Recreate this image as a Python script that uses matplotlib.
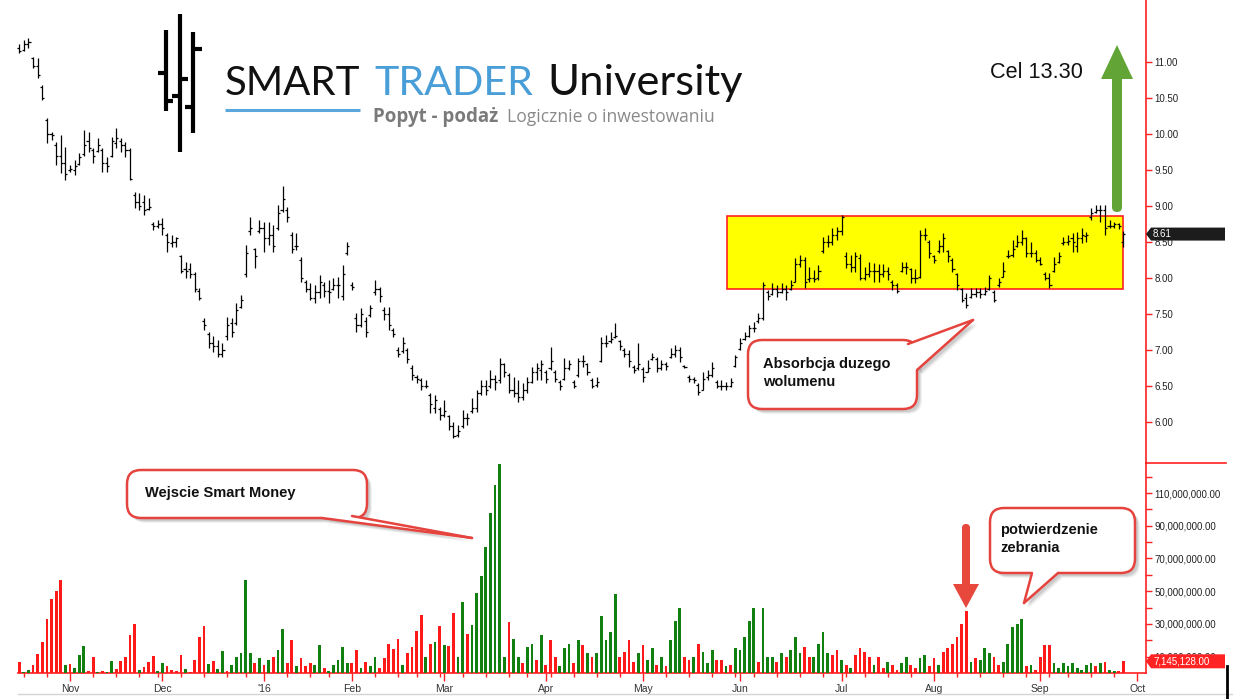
import matplotlib
matplotlib.use('Agg')
import matplotlib.pyplot as plt
import numpy as np
import pandas as pd
from matplotlib.patches import Rectangle, FancyBboxPatch, Polygon

plt.rcParams['font.family'] = ['Liberation Sans', 'DejaVu Sans']

# ---------------- data ----------------
start_date = '2015-10-16'
holidays = ['2015-11-26', '2015-12-25', '2016-01-01', '2016-01-18', '2016-02-15',
            '2016-03-25', '2016-05-30', '2016-07-04', '2016-09-05']

high = [11.25, 11.30, 11.33, 11.07, 11.05, 10.68, 10.22, 10.03, 9.89, 9.99,
        9.82, 9.57, 9.64, 9.74, 10.05, 10.03, 9.80, 9.94, 9.80, 9.68,
        9.96, 10.08, 9.94, 9.89, 9.80, 9.20, 9.18, 9.15, 9.11, 8.78,
        8.80, 8.83, 8.63, 8.60, 8.57, 8.32, 8.22, 8.21, 8.08, 7.86,
        7.44, 7.25, 7.20, 7.14, 7.10, 7.46, 7.44, 7.65, 7.76, 8.46,
        8.85, 8.42, 8.80, 8.78, 8.78, 8.74, 9.01, 9.28, 8.99, 8.64,
        8.63, 8.29, 7.97, 7.93, 7.90, 8.04, 7.94, 7.97, 8.00, 8.01,
        8.18, 8.50, 7.94, 7.51, 7.58, 7.46, 7.62, 7.97, 7.88, 7.60,
        7.60, 7.30, 7.04, 7.18, 7.03, 6.79, 6.65, 6.61, 6.58, 6.40,
        6.38, 6.21, 6.31, 6.10, 6.00, 5.96, 6.17, 6.12, 6.33, 6.44,
        6.58, 6.58, 6.72, 6.65, 6.89, 6.82, 6.68, 6.62, 6.58, 6.54,
        6.62, 6.76, 6.82, 6.86, 6.72, 7.04, 6.72, 6.58, 6.89, 6.86,
        6.58, 6.89, 6.93, 6.82, 6.61, 6.62, 7.18, 7.21, 7.25, 7.38,
        7.14, 7.03, 7.00, 6.79, 7.10, 6.76, 6.86, 6.96, 6.90, 6.86,
        6.83, 7.03, 7.07, 7.04, 6.79, 6.65, 6.62, 6.54, 6.69, 6.72,
        6.83, 6.58, 6.58, 6.56, 6.61, 6.93, 7.17, 7.25, 7.35, 7.39,
        7.51, 7.94, 7.83, 7.93, 7.90, 7.93, 7.90, 7.97, 8.28, 8.32,
        8.29, 8.15, 8.11, 8.18, 8.57, 8.60, 8.69, 8.71, 8.87, 8.36,
        8.32, 8.36, 8.33, 8.15, 8.22, 8.21, 8.19, 8.19, 8.15, 7.97,
        7.93, 8.22, 8.22, 8.14, 8.12, 8.67, 8.69, 8.53, 8.32, 8.53,
        8.63, 8.39, 8.28, 8.07, 7.86, 7.79, 7.86, 7.86, 7.86, 7.88,
        8.04, 7.83, 8.00, 8.22, 8.39, 8.53, 8.60, 8.67, 8.57, 8.50,
        8.39, 8.29, 8.08, 8.07, 8.29, 8.36, 8.57, 8.60, 8.63, 8.64,
        8.69, 8.64, 8.97, 9.01, 9.01, 9.01, 8.80, 8.78, 8.77, 8.65]

low = [11.12, 11.15, 11.20, 10.92, 10.78, 10.47, 9.88, 9.92, 9.57, 9.46,
       9.36, 9.47, 9.43, 9.57, 9.70, 9.75, 9.60, 9.75, 9.47, 9.47,
       9.68, 9.80, 9.75, 9.68, 9.36, 8.97, 8.94, 8.87, 8.94, 8.67,
       8.69, 8.60, 8.36, 8.43, 8.43, 8.07, 8.00, 8.00, 7.80, 7.69,
       7.28, 7.03, 6.97, 6.90, 6.90, 7.14, 7.18, 7.35, 7.58, 8.01,
       8.60, 8.14, 8.62, 8.36, 8.46, 8.36, 8.67, 8.92, 8.78, 8.35,
       8.39, 7.94, 7.80, 7.69, 7.65, 7.72, 7.74, 7.65, 7.83, 7.72,
       7.69, 8.32, 7.83, 7.25, 7.32, 7.18, 7.46, 7.76, 7.67, 7.42,
       7.28, 7.18, 6.90, 6.96, 6.82, 6.58, 6.54, 6.44, 6.47, 6.12,
       6.12, 6.03, 6.07, 5.89, 5.78, 5.79, 5.92, 5.96, 6.12, 6.14,
       6.38, 6.38, 6.47, 6.44, 6.54, 6.62, 6.40, 6.35, 6.28, 6.30,
       6.40, 6.54, 6.58, 6.58, 6.54, 6.72, 6.56, 6.44, 6.58, 6.72,
       6.47, 6.62, 6.76, 6.65, 6.47, 6.49, 6.83, 7.04, 7.10, 7.17,
       7.00, 6.90, 6.76, 6.68, 6.72, 6.56, 6.69, 6.86, 6.69, 6.72,
       6.72, 6.89, 6.90, 6.83, 6.75, 6.56, 6.54, 6.38, 6.44, 6.58,
       6.62, 6.47, 6.44, 6.44, 6.49, 6.76, 7.00, 7.14, 7.18, 7.25,
       7.38, 7.42, 7.69, 7.76, 7.74, 7.79, 7.69, 7.83, 7.94, 8.15,
       7.86, 7.94, 7.94, 7.97, 8.35, 8.43, 8.46, 8.53, 8.60, 8.14,
       8.08, 8.08, 7.97, 7.97, 8.01, 7.94, 7.94, 8.01, 7.97, 7.83,
       7.79, 8.08, 8.06, 7.93, 7.93, 8.00, 8.53, 8.28, 8.21, 8.35,
       8.36, 8.22, 8.08, 7.83, 7.67, 7.58, 7.72, 7.74, 7.72, 7.76,
       7.83, 7.67, 7.88, 8.01, 8.28, 8.29, 8.43, 8.46, 8.29, 8.29,
       8.22, 8.18, 7.97, 7.86, 8.08, 8.21, 8.46, 8.46, 8.36, 8.36,
       8.49, 8.50, 8.81, 8.90, 8.78, 8.60, 8.69, 8.70, 8.68, 8.43]

open_ = [11.20, 11.17, 11.25, 11.05, 10.95, 10.65, 10.20, 10.00, 9.85, 9.70,
         9.60, 9.50, 9.50, 9.58, 9.72, 9.90, 9.78, 9.76, 9.78, 9.60,
         9.70, 9.88, 9.90, 9.85, 9.78, 9.15, 9.05, 9.05, 8.96, 8.75,
         8.72, 8.75, 8.60, 8.48, 8.50, 8.30, 8.12, 8.12, 8.05, 7.82,
         7.40, 7.22, 7.10, 7.05, 6.95, 7.20, 7.38, 7.38, 7.60, 8.05,
         8.65, 8.40, 8.65, 8.70, 8.55, 8.60, 8.70, 8.95, 8.95, 8.60,
         8.45, 8.25, 7.95, 7.85, 7.72, 7.80, 7.90, 7.82, 7.85, 7.90,
         7.75, 8.35, 7.90, 7.45, 7.35, 7.40, 7.48, 7.80, 7.85, 7.55,
         7.50, 7.28, 7.00, 6.98, 7.00, 6.75, 6.62, 6.58, 6.50, 6.38,
         6.20, 6.18, 6.10, 6.08, 5.95, 5.82, 5.95, 6.05, 6.15, 6.20,
         6.40, 6.50, 6.50, 6.60, 6.58, 6.80, 6.65, 6.45, 6.40, 6.35,
         6.45, 6.55, 6.70, 6.72, 6.70, 6.75, 6.70, 6.56, 6.60, 6.75,
         6.55, 6.65, 6.85, 6.80, 6.58, 6.52, 6.85, 7.10, 7.12, 7.18,
         7.12, 7.00, 6.95, 6.76, 6.75, 6.74, 6.70, 6.88, 6.88, 6.75,
         6.80, 6.90, 6.95, 7.00, 6.78, 6.62, 6.60, 6.52, 6.45, 6.62,
         6.65, 6.55, 6.50, 6.50, 6.50, 6.78, 7.02, 7.15, 7.20, 7.30,
         7.40, 7.45, 7.80, 7.78, 7.85, 7.80, 7.85, 7.85, 7.95, 8.20,
         8.25, 7.98, 8.00, 8.00, 8.38, 8.50, 8.50, 8.60, 8.65, 8.30,
         8.20, 8.15, 8.28, 8.00, 8.05, 8.10, 8.10, 8.05, 8.10, 7.95,
         7.90, 8.10, 8.15, 8.12, 8.00, 8.02, 8.60, 8.50, 8.30, 8.38,
         8.45, 8.38, 8.25, 8.05, 7.85, 7.72, 7.74, 7.78, 7.80, 7.78,
         7.85, 7.80, 7.90, 8.02, 8.30, 8.32, 8.45, 8.50, 8.55, 8.35,
         8.35, 8.25, 8.05, 8.00, 8.10, 8.22, 8.48, 8.50, 8.55, 8.45,
         8.55, 8.58, 8.85, 8.92, 8.95, 8.95, 8.72, 8.72, 8.75, 8.50]

close = [11.15, 11.25, 11.28, 10.95, 10.82, 10.50, 10.00, 9.98, 9.70, 9.60,
         9.45, 9.52, 9.55, 9.68, 9.85, 9.80, 9.70, 9.85, 9.60, 9.55,
         9.90, 9.95, 9.85, 9.78, 9.38, 9.05, 9.00, 8.95, 8.98, 8.72,
         8.75, 8.70, 8.50, 8.50, 8.55, 8.10, 8.10, 8.05, 7.85, 7.72,
         7.35, 7.10, 7.05, 6.95, 7.00, 7.35, 7.25, 7.55, 7.70, 8.35,
         8.70, 8.30, 8.70, 8.55, 8.60, 8.45, 8.90, 9.10, 8.85, 8.40,
         8.45, 8.00, 7.85, 7.72, 7.80, 7.95, 7.82, 7.80, 7.90, 7.90,
         8.05, 8.45, 7.88, 7.35, 7.50, 7.25, 7.58, 7.85, 7.75, 7.50,
         7.35, 7.22, 6.95, 7.10, 6.88, 6.65, 6.60, 6.50, 6.50, 6.25,
         6.30, 6.10, 6.15, 5.95, 5.80, 5.88, 6.05, 6.05, 6.20, 6.40,
         6.50, 6.45, 6.60, 6.55, 6.80, 6.70, 6.45, 6.40, 6.35, 6.45,
         6.55, 6.70, 6.75, 6.80, 6.60, 6.85, 6.60, 6.50, 6.75, 6.80,
         6.50, 6.85, 6.85, 6.70, 6.50, 6.55, 7.10, 7.10, 7.15, 7.20,
         7.05, 6.95, 6.85, 6.72, 6.80, 6.62, 6.75, 6.90, 6.75, 6.80,
         6.78, 6.95, 7.00, 6.90, 6.77, 6.60, 6.58, 6.42, 6.60, 6.65,
         6.75, 6.50, 6.50, 6.50, 6.55, 6.90, 7.10, 7.20, 7.30, 7.30,
         7.45, 7.90, 7.75, 7.85, 7.80, 7.85, 7.80, 7.90, 8.20, 8.25,
         7.95, 8.00, 7.98, 8.10, 8.50, 8.50, 8.60, 8.65, 8.85, 8.20,
         8.15, 8.30, 8.00, 8.05, 8.10, 8.10, 8.05, 8.10, 8.05, 7.90,
         7.82, 8.15, 8.15, 8.00, 8.00, 8.60, 8.60, 8.35, 8.25, 8.45,
         8.55, 8.30, 8.12, 7.90, 7.70, 7.62, 7.78, 7.80, 7.78, 7.82,
         8.00, 7.70, 7.95, 8.10, 8.30, 8.40, 8.50, 8.55, 8.35, 8.35,
         8.25, 8.20, 8.00, 7.90, 8.20, 8.30, 8.50, 8.52, 8.50, 8.55,
         8.60, 8.60, 8.90, 8.95, 8.95, 8.70, 8.72, 8.75, 8.72, 8.61]

# volume in millions of shares
volume_m = [6.5, 0.5, 2, 5, 11.6, 18.7, 33, 45, 50, 57,
            5, 5.5, 3, 11, 16.7, 1.4, 10, 0.8, 1.4, 0.8,
            7.5, 2.4, 7.5, 10, 23, 30, 2, 3.5, 6.5, 10.6,
            1, 6, 4.5, 1.8, 1, 11, 2.4, 0.8, 8, 22,
            29, 5.5, 7.5, 2.4, 13.6, 1.4, 4.9, 10, 12, 57,
            12, 6, 9, 5, 8, 10, 14, 27, 6, 20,
            4, 9, 4, 6, 5, 17, 3, 1, 5, 8,
            16, 6, 6, 14, 3, 7, 4, 10, 3, 9,
            18, 14.7, 20.8, 5, 12, 15.9, 25.7, 35.5, 10, 17.7,
            18.9, 28.7, 17, 16.5, 36.7, 10, 43.4, 23.8, 29.3, 49,
            59, 77, 98, 115, 128, 10, 31, 21, 10, 6,
            16, 18, 8, 23, 5, 20, 10, 4, 15, 18,
            6, 20, 17, 12, 10, 12, 35, 20, 25, 48,
            10, 13, 20, 7, 12, 17, 8, 15, 5, 10,
            4, 20, 32, 40, 10, 8, 10, 18, 13, 6,
            14, 8, 8, 4, 5, 15, 14, 22, 32, 40,
            7, 40, 10, 10, 7, 12, 10, 14, 22, 12,
            16, 10, 10, 18, 25, 12, 11, 14, 8, 5,
            3, 11, 15, 13, 10, 5, 10, 3, 7, 5,
            2, 6, 10, 5, 3, 9, 11, 4, 9, 5,
            13, 15, 18, 22, 30, 38, 7, 9, 8, 15,
            12, 10, 5, 7, 18, 28, 30, 33, 4, 5,
            2, 10, 17, 17, 6, 3, 6, 4, 6, 3,
            2, 5, 6, 4, 6, 7, 2, 1, 1, 7.145128]

vol_dir_rows = ["rggrrrrrrr", "grgggrrgrg", "grrrrrgrrr", "ggrrrrgrrr", "rgrggrgggg",
                "grgrgrggrr", "grrrggrggg", "ggrrgrggrr", "rrrgrrrrgr", "grgrrggrgg",
                "ggggggrggr", "ggrgrrrggg", "rgrgrggggg", "rrrrgrggrg", "rgggrrgrgg",
                "grrgrggggg", "rgggrgrggg", "rrggggrrgr", "grrrrgrrgr", "rggrrggrrg",
                "rrrrrrgrgg", "grrgggggrg", "rrrrgggggg", "gggrgrggrr"]
vol_dir = ''.join(vol_dir_rows)

zone_low, zone_high = 7.85, 8.86
zone_start, zone_end = 153.2, 238.9
last_price_label = '8.61'
last_volume_label = '7,145,128.00'

month_names = {1: "'16", 2: 'Feb', 3: 'Mar', 4: 'Apr', 5: 'May', 6: 'Jun', 7: 'Jul',
               8: 'Aug', 9: 'Sep', 10: 'Oct', 11: 'Nov', 12: 'Dec'}

# ---------------- layout (pixels) ----------------
W, H = 1233, 699
AX_RIGHT = 1146
PRICE_BOTTOM = 463
VOL_BOTTOM = 673
BAR_PX = 4.62
X0_PX = 19.2
PX_PER_PRICE = 72.0
PRICE_REF, PRICE_REF_PX = 11.0, 62.0
PX_PER_MVOL = 1.636

RED = '#ff2020'
GREEN_BAR = '#118011'
RED_BAR = '#ff1a1a'

fig = plt.figure(figsize=(W / 100, H / 100), dpi=100)
fig.patch.set_facecolor('white')

def fy(py):
    return 1 - py / H

ax_p = fig.add_axes([0, fy(PRICE_BOTTOM), AX_RIGHT / W, PRICE_BOTTOM / H])
ax_v = fig.add_axes([0, fy(VOL_BOTTOM), AX_RIGHT / W, (VOL_BOTTOM - PRICE_BOTTOM) / H])

n = len(close)
idx = np.arange(n)
xlim = (-X0_PX / BAR_PX, (AX_RIGHT - X0_PX) / BAR_PX)

# ---------------- price panel ----------------
ax_p.set_xlim(*xlim)
ax_p.set_ylim(PRICE_REF - (PRICE_BOTTOM - PRICE_REF_PX) / PX_PER_PRICE,
              PRICE_REF + PRICE_REF_PX / PX_PER_PRICE)
ax_p.add_patch(Rectangle((zone_start, zone_low), zone_end - zone_start, zone_high - zone_low,
                         facecolor='#ffff00', edgecolor=RED, lw=1.2, zorder=1))
ax_p.vlines(idx, low, high, color='black', lw=0.9, zorder=3)
ax_p.hlines(open_, idx - 0.45, idx, color='black', lw=0.9, zorder=3)
ax_p.hlines(close, idx, idx + 0.45, color='black', lw=0.9, zorder=3)
for s in ['top', 'left', 'bottom']:
    ax_p.spines[s].set_visible(False)
ax_p.spines['right'].set_color(RED)
ax_p.spines['right'].set_linewidth(1.2)
ax_p.xaxis.set_visible(False)
ax_p.yaxis.tick_right()
pticks = np.arange(6.0, 11.01, 0.5)
ax_p.set_yticks(pticks)
ax_p.set_yticklabels([f'{t:.2f}' for t in pticks])
ax_p.tick_params(axis='y', length=4, width=1, color=RED, labelsize=7, labelcolor='#222222', pad=2)

# price tag
tr = ax_p.get_yaxis_transform()
ppx = 1.0 / AX_RIGHT
hh = 6.5 / PX_PER_PRICE
yv = close[-1]
ax_p.add_patch(Polygon([(1.0, yv), (1.0 + 5 * ppx, yv + hh), ((W - 8) * ppx, yv + hh),
                        ((W - 8) * ppx, yv - hh), (1.0 + 5 * ppx, yv - hh)],
                       closed=True, transform=tr, facecolor='#1c1c1c', edgecolor='none',
                       clip_on=False, zorder=10))
ax_p.text(1.0 + 7 * ppx, yv, last_price_label, transform=tr, color='white', fontsize=7,
          va='center', ha='left', clip_on=False, zorder=11)

# ---------------- volume panel ----------------
ax_v.set_xlim(*xlim)
ax_v.set_ylim(0, (VOL_BOTTOM - PRICE_BOTTOM) / PX_PER_MVOL * 1e6)
vols = np.array(volume_m) * 1e6
cols = [GREEN_BAR if d == 'g' else RED_BAR for d in vol_dir[:n]]
ax_v.bar(idx, vols, width=0.6, color=cols, zorder=3)
for s in ['top', 'left']:
    ax_v.spines[s].set_visible(False)
for s in ['right', 'bottom']:
    ax_v.spines[s].set_color(RED)
    ax_v.spines[s].set_linewidth(1.2)
ax_v.spines['bottom'].set_bounds((18 - X0_PX) / BAR_PX, xlim[1])
ax_v.yaxis.tick_right()
vmaj = np.arange(10e6, 111e6, 20e6)
vmin = np.arange(20e6, 121e6, 20e6)
ax_v.set_yticks(vmaj)
ax_v.set_yticks(vmin, minor=True)
ax_v.set_yticklabels([f'{v:,.2f}' for v in vmaj])
ax_v.tick_params(axis='y', which='both', length=4, width=1, color=RED, labelsize=7,
                 labelcolor='#222222', pad=2)

# date axis
hol = pd.to_datetime(holidays)
dates = pd.bdate_range(start_date, '2016-10-07', freq='C', holidays=hol)
months = dates.month.values
mpos, mlab = [], []
for i in range(1, len(dates)):
    if months[i] != months[i - 1] and i <= xlim[1]:
        mpos.append(i)
        mlab.append(month_names[months[i]])
wpos = []
wd = dates.weekday.values
for i in range(1, len(dates)):
    if wd[i] < wd[i - 1] and i not in mpos and i <= xlim[1]:
        wpos.append(i)
ax_v.set_xticks(mpos)
ax_v.set_xticklabels(mlab)
ax_v.set_xticks(wpos, minor=True)
ax_v.tick_params(axis='x', which='major', length=6, width=1, color=RED, labelsize=7.5,
                 labelcolor='#333333', pad=2)
ax_v.tick_params(axis='x', which='minor', length=3, width=1, color=RED)

# volume tag
trv = ax_v.get_yaxis_transform()
hv = 7 / PX_PER_MVOL * 1e6
vv = vols[-1]
ax_v.add_patch(Polygon([(1.0, vv), (1.0 + 5 * ppx, vv + hv), ((W - 8) * ppx, vv + hv),
                        ((W - 8) * ppx, vv - hv), (1.0 + 5 * ppx, vv - hv)],
                       closed=True, transform=trv, facecolor='#ff2222', edgecolor='none',
                       clip_on=False, zorder=10))
ax_v.text(1.0 + 7 * ppx, vv, last_volume_label, transform=trv, color='white', fontsize=7,
          va='center', ha='left', clip_on=False, zorder=11)

# ---------------- overlay (pixel coordinates) ----------------
ov = fig.add_axes([0, 0, 1, 1], zorder=20)
ov.set_xlim(0, W)
ov.set_ylim(H, 0)
ov.axis('off')
ov.patch.set_alpha(0)

# separators
ov.plot([AX_RIGHT, W - 7], [PRICE_BOTTOM, PRICE_BOTTOM], color=RED, lw=1.2)
ov.plot([18, W], [694, 694], color='#d4d4d4', lw=1)
ov.plot([W - 6, W - 6], [666, H], color='black', lw=2)

renderer = fig.canvas.get_renderer()

def fit_text(x, y, s, width, va='baseline', **kw):
    t = ov.text(x, y, s, ha='left', va=va, **kw)
    fs = t.get_fontsize()
    w = t.get_window_extent(renderer).width
    t.set_fontsize(fs * width / w)
    return t

# logo glyph
LOGO = 'black'
for (x, y0, y1) in [(166, 30, 111), (180, 14, 152), (193, 32, 133)]:
    ov.plot([x, x], [y0, y1], color=LOGO, lw=3, solid_capstyle='butt')
for (xa, xb, y) in [(158, 166, 73), (166, 173, 101), (172, 180, 96), (180, 188, 79),
                    (193, 202, 49), (185, 193, 107)]:
    ov.plot([xa, xb], [y, y], color=LOGO, lw=3, solid_capstyle='butt')

LOGO_FONT = ['Lato', 'DejaVu Sans']
fit_text(225, 95, 'SMART', 135, fontsize=30, color='#111111', family=LOGO_FONT)
fit_text(374, 95, 'TRADER', 159, fontsize=30, color='#4a9ed8', family=LOGO_FONT)
fit_text(547, 95, 'University', 195, fontsize=30, color='#111111', family=LOGO_FONT)
ov.plot([225, 360], [110, 110], color='#5aa7dd', lw=2.2, solid_capstyle='butt')
fit_text(373, 122, 'Popyt - podaż', 125, fontsize=12, color='#7a7a7a',
         family=['Open Sans', 'DejaVu Sans'], fontweight='bold')
fit_text(507, 122, 'Logicznie o inwestowaniu', 207, fontsize=12, color='#8a8a8a',
         family=['Open Sans', 'DejaVu Sans'])

# target text
fit_text(990, 78, 'Cel 13.30', 92, fontsize=13, color='#111111')

# green up arrow
GREEN_ARROW = '#62a536'
ov.add_patch(FancyBboxPatch((1112, 70), 10, 142, boxstyle='round,pad=0,rounding_size=5',
                            facecolor=GREEN_ARROW, edgecolor='none'))
ov.add_patch(Polygon([(1101, 79), (1133, 79), (1117, 45)], closed=True,
                     facecolor=GREEN_ARROW, edgecolor='none'))

# red down arrow
RED_ARROW = '#e8473b'
ov.add_patch(FancyBboxPatch((962, 524), 8, 64, boxstyle='round,pad=0,rounding_size=4',
                            facecolor=RED_ARROW, edgecolor='none'))
ov.add_patch(Polygon([(953, 584), (979, 584), (966, 608)], closed=True,
                     facecolor=RED_ARROW, edgecolor='none'))

CALL = '#e5433d'

def callout(box, b1, b2, tip, inner1, inner2, lines, tx, ty, dy):
    x0, y0, x1, y1 = box
    r = 14
    for k, a in [(5, 0.05), (4, 0.07), (3, 0.09)]:
        ov.add_patch(FancyBboxPatch((x0 + k, y0 + k), x1 - x0, y1 - y0,
                                    boxstyle=f'round,pad=0,rounding_size={r}',
                                    facecolor='black', edgecolor='none', alpha=a, zorder=1))
        ov.add_patch(Polygon([(b1[0] + k, b1[1] + k), (tip[0] + k, tip[1] + k),
                              (b2[0] + k, b2[1] + k)], closed=True, facecolor='black',
                             edgecolor='none', alpha=a, zorder=1))
    ov.add_patch(FancyBboxPatch((x0, y0), x1 - x0, y1 - y0,
                                boxstyle=f'round,pad=0,rounding_size={r}',
                                facecolor='white', edgecolor=CALL, lw=1.8, zorder=2))
    ov.add_patch(Polygon([b1, tip, b2, inner2, inner1], closed=True, facecolor='white',
                         edgecolor='none', zorder=3))
    ov.plot([b1[0], tip[0]], [b1[1], tip[1]], color=CALL, lw=1.8, zorder=4,
            solid_capstyle='round')
    ov.plot([b2[0], tip[0]], [b2[1], tip[1]], color=CALL, lw=1.8, zorder=4,
            solid_capstyle='round')
    for j, s in enumerate(lines):
        ov.text(tx, ty + j * dy, s, fontsize=10.5, fontweight='bold', color='#111111',
                ha='left', va='center', zorder=5)

callout((748, 340, 917, 409), (908, 344), (917, 370), (973, 320), (904, 350), (911, 372),
        ['Absorbcja duzego', 'wolumenu'], 763, 364, 18)
callout((127, 470, 367, 518), (322, 518), (352, 516), (472, 538), (322, 512), (352, 510),
        ['Wejscie Smart Money'], 145, 493, 18)
callout((990, 508, 1135, 573), (1032, 573), (1058, 573), (1024, 603), (1032, 567),
        (1058, 567), ['potwierdzenie', 'zebrania'], 1000, 530, 18)

fig.savefig('out.png', dpi=100, facecolor='white')
